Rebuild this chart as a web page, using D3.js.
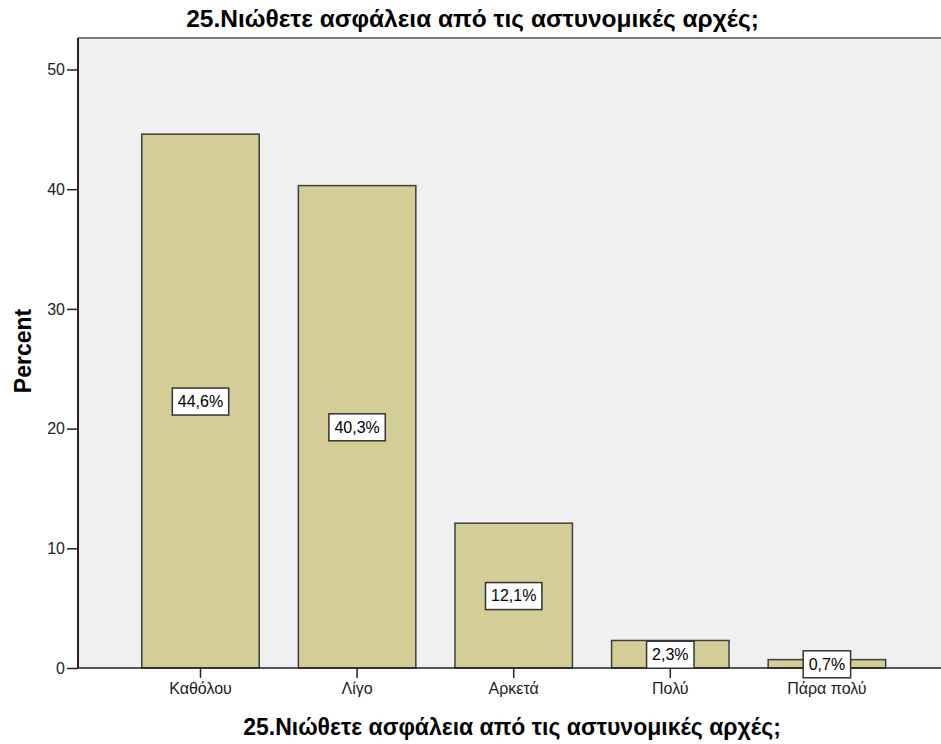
<!DOCTYPE html>
<html>
<head>
<meta charset="utf-8">
<script src="https://cdn.jsdelivr.net/npm/d3@7"></script>
<style>
    body { margin: 0; background: #fff; }
    svg { display: block; }
</style>
</head>
<body>
<div id="chart"></div>
<script>
// 数据
let categories = ["Καθόλου", "Λίγο", "Αρκετά", "Πολύ", "Πάρα πολύ"];
let percents = [44.6, 40.3, 12.1, 2.3, 0.7];
let yTicks = [0, 10, 20, 30, 40, 50];
let titleText = "25.Νιώθετε ασφάλεια από τις αστυνομικές αρχές;";
let yLabel = "Percent";

let width = 941,
    height = 744;

// 绘图区域
let plot = {left: 78, top: 38, right: 960, bottom: 668};

let svg = d3.select("#chart").append("svg")
    .attr("width", width)
    .attr("height", height);

let y = d3.scaleLinear()
    .domain([0, 50])
    .range([plot.bottom, 69.5]);

let x = d3.scaleBand()
    .domain(categories)
    .range([122.2, 905.2])
    .paddingInner(0.25)
    .paddingOuter(0.125);

// 背景
svg.append("rect")
    .attr("x", plot.left)
    .attr("y", plot.top)
    .attr("width", plot.right - plot.left)
    .attr("height", plot.bottom - plot.top)
    .attr("fill", "#f0f0f0");

// 上边框
svg.append("line")
    .attr("x1", plot.left).attr("x2", plot.right)
    .attr("y1", plot.top).attr("y2", plot.top)
    .attr("stroke", "#7a7a7a")
    .attr("stroke-width", 2);

// 柱子
svg.append("g").selectAll("rect")
    .data(percents)
    .enter().append("rect")
    .attr("x", function (d, i) { return x(categories[i]); })
    .attr("y", function (d) { return y(d); })
    .attr("width", x.bandwidth())
    .attr("height", function (d) { return y(0) - y(d); })
    .attr("fill", "#d3ce98")
    .attr("stroke", "#3e3e3e")
    .attr("stroke-width", 1.5);

// y轴
let yAxis = d3.axisLeft(y).tickValues(yTicks).tickSize(11).tickPadding(2);
let gy = svg.append("g")
    .attr("transform", "translate(" + plot.left + ",0)")
    .call(yAxis);
gy.select(".domain").remove();
gy.append("line")
    .attr("x1", 0).attr("x2", 0)
    .attr("y1", plot.top).attr("y2", plot.bottom)
    .attr("stroke", "#222")
    .attr("stroke-width", 2);
gy.selectAll(".tick line").attr("stroke", "#222").attr("stroke-width", 1.5);
gy.selectAll(".tick text")
    .attr("fill", "#222")
    .style("font", "16px 'Liberation Sans', Arial, sans-serif");

// x轴
let xAxis = d3.axisBottom(x).tickSize(10).tickPadding(5);
let gx = svg.append("g")
    .attr("transform", "translate(0," + plot.bottom + ")")
    .call(xAxis);
gx.select(".domain").remove();
gx.append("line")
    .attr("x1", plot.left).attr("x2", plot.right)
    .attr("y1", 0).attr("y2", 0)
    .attr("stroke", "#222")
    .attr("stroke-width", 1.5);
gx.selectAll(".tick line").attr("stroke", "#222").attr("stroke-width", 1.5);
gx.selectAll(".tick text")
    .attr("fill", "#222")
    .style("font", "16px 'Liberation Sans', Arial, sans-serif");

// 数值标签
let labels = svg.append("g").selectAll("g")
    .data(percents)
    .enter().append("g")
    .attr("transform", function (d, i) {
        return "translate(" + (x(categories[i]) + x.bandwidth() / 2) + "," + y(d / 2) + ")";
    });
labels.append("rect").attr("class", "box");
labels.append("text")
    .attr("text-anchor", "middle")
    .attr("dy", "0.36em")
    .style("font", "16px 'Liberation Sans', Arial, sans-serif")
    .attr("fill", "#000")
    .text(function (d) { return d.toFixed(1).replace(".", ",") + "%"; });
labels.each(function () {
    let g = d3.select(this);
    let w = g.select("text").node().getComputedTextLength() + 11;
    g.select(".box")
        .attr("x", -w / 2).attr("y", -13)
        .attr("width", w).attr("height", 27)
        .attr("fill", "#fff")
        .attr("stroke", "#333")
        .attr("stroke-width", 1.5);
});

// 标题
svg.append("text")
    .attr("x", 472.5)
    .attr("y", 27)
    .attr("text-anchor", "middle")
    .style("font", "bold 24.5px 'Liberation Sans', Arial, sans-serif")
    .text(titleText);

svg.append("text")
    .attr("x", 512)
    .attr("y", 735)
    .attr("text-anchor", "middle")
    .style("font", "bold 23px 'Liberation Sans', Arial, sans-serif")
    .text(titleText);

svg.append("text")
    .attr("transform", "translate(31,351) rotate(-90)")
    .attr("text-anchor", "middle")
    .style("font", "bold 23px 'Liberation Sans', Arial, sans-serif")
    .text(yLabel);
</script>
</body>
</html>
